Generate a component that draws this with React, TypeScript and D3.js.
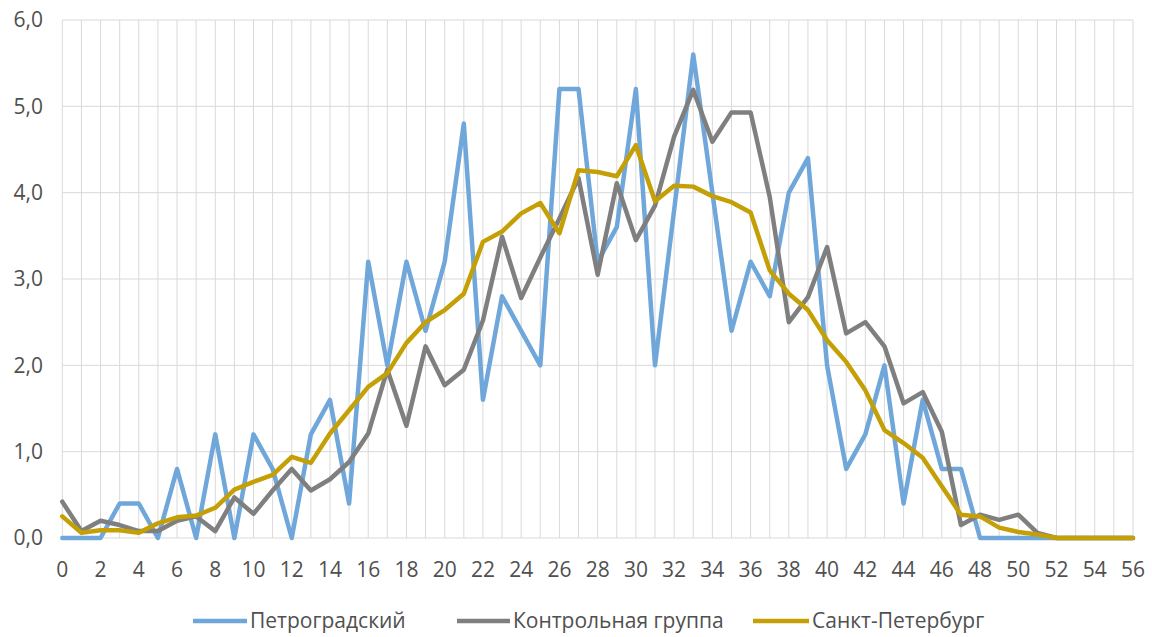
import React from "react";
import * as d3 from "d3";

const ages: number[] = d3.range(0, 57);

const petrogradsky: number[] = [
  0, 0, 0, 0.4, 0.4, 0, 0.8, 0, 1.2, 0, 1.2, 0.8, 0, 1.2, 1.6, 0.4, 3.2, 2.0, 3.2, 2.4,
  3.2, 4.8, 1.6, 2.8, 2.4, 2.0, 5.2, 5.2, 3.2, 3.6, 5.2, 2.0, 3.8, 5.6, 4.0, 2.4, 3.2, 2.8, 4.0, 4.4,
  2.0, 0.8, 1.2, 2.0, 0.4, 1.6, 0.8, 0.8, 0, 0, 0, 0, 0, 0, 0, 0, 0,
];

const control: number[] = [
  0.42, 0.08, 0.2, 0.15, 0.08, 0.08, 0.2, 0.25, 0.08, 0.47, 0.28, 0.55, 0.8, 0.55, 0.68, 0.88, 1.21, 1.95, 1.3, 2.22,
  1.77, 1.95, 2.52, 3.49, 2.78, 3.25, 3.7, 4.17, 3.05, 4.11, 3.45, 3.85, 4.65, 5.19, 4.59, 4.93, 4.93, 3.95, 2.5, 2.79,
  3.37, 2.37, 2.5, 2.22, 1.56, 1.69, 1.23, 0.15, 0.27, 0.21, 0.27, 0.06, 0, 0, 0, 0, 0,
];

const spb: number[] = [
  0.25, 0.06, 0.09, 0.09, 0.06, 0.17, 0.24, 0.26, 0.35, 0.56, 0.65, 0.73, 0.94, 0.87, 1.21, 1.48, 1.75, 1.91, 2.26, 2.5,
  2.64, 2.83, 3.43, 3.55, 3.76, 3.88, 3.53, 4.26, 4.24, 4.19, 4.55, 3.9, 4.08, 4.07, 3.96, 3.89, 3.77, 3.1, 2.83, 2.64,
  2.29, 2.04, 1.71, 1.25, 1.1, 0.93, 0.6, 0.27, 0.25, 0.12, 0.07, 0.04, 0, 0, 0, 0, 0,
];

const seriesNames: string[] = ["Петроградский", "Контрольная группа", "Санкт-Петербург"];
const seriesValues: number[][] = [petrogradsky, control, spb];
const seriesColors: string[] = ["#70a7da", "#7f7f7f", "#c59f06"];

const yTicks: number[] = [0, 1, 2, 3, 4, 5, 6];
const xTickLabels: number[] = d3.range(0, 57, 2);

const W = 1152;
const H = 637;
const FONT = "'Open Sans', sans-serif";

export default function App() {
  const x = d3.scaleLinear().domain([0, 56]).range([62.3, 1133]);
  const y = d3.scaleLinear().domain([0, 6]).range([538, 20]);
  const fmt = (v: number) => d3.format(".1f")(v).replace(".", ",");

  const line = d3
    .line<number>()
    .x((_, i) => x(ages[i]))
    .y((d) => y(d));

  const legendPos = [
    { x0: 193, x1: 247, tx: 250 },
    { x0: 457, x1: 510, tx: 513 },
    { x0: 753, x1: 809, tx: 812 },
  ];

  return (
    <svg
      width={W}
      height={H}
      style={{ position: "absolute", left: 0, top: 0, background: "#fff" }}
      fontFamily={FONT}
    >
      <rect x={0} y={0} width={W} height={H} fill="#fff" />
      {ages.map((a) => (
        <line key={"v" + a} x1={x(a)} x2={x(a)} y1={y(6)} y2={y(0)} stroke="#d9d9d9" strokeWidth={1} />
      ))}
      {yTicks.map((t) => (
        <line key={"h" + t} x1={x(0)} x2={x(56)} y1={y(t)} y2={y(t)} stroke="#d9d9d9" strokeWidth={1} />
      ))}
      {yTicks.map((t) => (
        <text key={"yl" + t} x={43} y={y(t)} dy="0.35em" textAnchor="end" fontSize={21} fill="#505050">
          {fmt(t)}
        </text>
      ))}
      {xTickLabels.map((t) => (
        <text key={"xl" + t} x={x(t)} y={577} textAnchor="middle" fontSize={21} fill="#505050">
          {t}
        </text>
      ))}
      {seriesValues.map((vals, si) => (
        <path
          key={"s" + si}
          d={line(vals) || ""}
          fill="none"
          stroke={seriesColors[si]}
          strokeWidth={4.5}
          strokeLinejoin="round"
          strokeLinecap="round"
        />
      ))}
      {seriesNames.map((name, si) => (
        <g key={"lg" + si}>
          <line
            x1={legendPos[si].x0}
            x2={legendPos[si].x1}
            y1={621}
            y2={621}
            stroke={seriesColors[si]}
            strokeWidth={4.5}
          />
          <text x={legendPos[si].tx} y={621} dy="0.35em" fontSize={21} fill="#505050">
            {name}
          </text>
        </g>
      ))}
    </svg>
  );
}
